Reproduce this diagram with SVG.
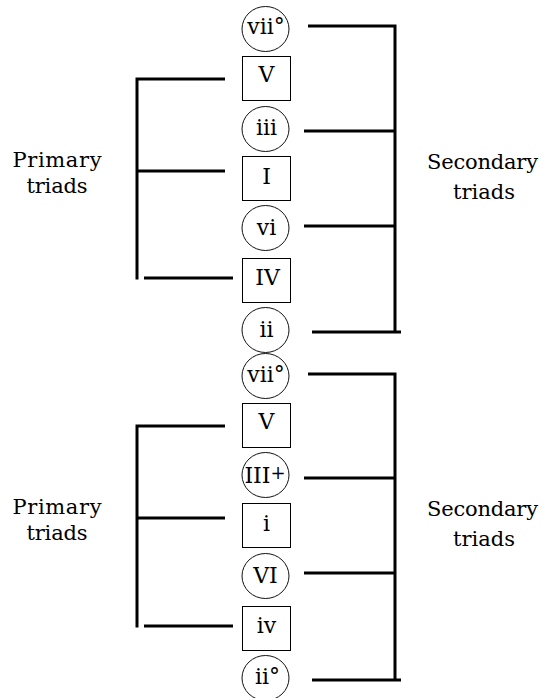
<svg xmlns="http://www.w3.org/2000/svg" width="544" height="698" viewBox="0 0 544 698">
  <style>
    .box { fill: #fff; stroke: #000; stroke-width: 1; }
    .ring { fill: #fff; stroke: #111; stroke-width: 1; }
    .lbl { font-family: "DejaVu Serif", "Liberation Serif", serif; font-size: 22px; fill: #000; text-anchor: middle; }
    .side { font-family: "DejaVu Serif", "Liberation Serif", serif; font-size: 21px; fill: #000; }
    .wire { stroke: #000; stroke-width: 3; fill: none; stroke-linecap: butt; }
  </style>

  <!-- brackets linking the triads -->
  <g id="connectors">
    <!-- major key: primary bracket -->
    <path class="wire" d="M137 77.5 V279.5 M137 79 H225 M137 171 H225 M144 278 H233"/>
    <!-- major key: secondary bracket -->
    <path class="wire" d="M395 24.5 V333.5 M308 26 H396.5 M304 131 H396.5 M304 226 H396.5 M312 332 H401"/>
    <!-- minor key: primary bracket -->
    <path class="wire" d="M137 424.5 V627.5 M137 426 H225 M137 518 H225 M144 626 H233"/>
    <!-- minor key: secondary bracket -->
    <path class="wire" d="M395 372.5 V681.5 M308 374 H396.5 M304 478 H396.5 M304 573 H396.5 M312 680 H401"/>
  </g>

  <!-- major key column -->
  <g id="maj-vii">
    <ellipse class="ring" cx="265.5" cy="29" rx="23.5" ry="22.5"/>
    <text class="lbl" x="266" y="34">vii°</text>
  </g>
  <g id="maj-V">
    <rect class="box" x="242.5" y="56.5" width="48" height="44"/>
    <text class="lbl" x="266.5" y="82">V</text>
  </g>
  <g id="maj-iii">
    <ellipse class="ring" cx="265.5" cy="129" rx="23.5" ry="22.5"/>
    <text class="lbl" x="266.5" y="135">iii</text>
  </g>
  <g id="maj-I">
    <rect class="box" x="242.5" y="156.5" width="48" height="44"/>
    <text class="lbl" x="266.5" y="184">I</text>
  </g>
  <g id="maj-vi">
    <ellipse class="ring" cx="265.5" cy="228" rx="23.5" ry="22.5"/>
    <text class="lbl" x="266.5" y="235">vi</text>
  </g>
  <g id="maj-IV">
    <rect class="box" x="242.5" y="258.5" width="48" height="44"/>
    <text class="lbl" x="267.5" y="285">IV</text>
  </g>
  <g id="maj-ii">
    <ellipse class="ring" cx="265.5" cy="330" rx="23.5" ry="22.5"/>
    <text class="lbl" x="266.5" y="336.5">ii</text>
  </g>

  <!-- minor key column -->
  <g id="min-vii">
    <ellipse class="ring" cx="265.5" cy="376" rx="23.5" ry="22.5"/>
    <text class="lbl" x="266" y="382">vii°</text>
  </g>
  <g id="min-V">
    <rect class="box" x="242.5" y="403.5" width="48" height="44"/>
    <text class="lbl" x="266.5" y="429">V</text>
  </g>
  <g id="min-III">
    <ellipse class="ring" cx="265.5" cy="475" rx="23.5" ry="22.5"/>
    <text class="lbl" x="265" y="483" font-size="21">III<tspan font-size="18" dy="-4">+</tspan></text>
  </g>
  <g id="min-i">
    <rect class="box" x="242.5" y="503.5" width="48" height="44"/>
    <text class="lbl" x="266.5" y="531">i</text>
  </g>
  <g id="min-VI">
    <ellipse class="ring" cx="265.5" cy="576" rx="23.5" ry="22.5"/>
    <text class="lbl" x="265.5" y="583">VI</text>
  </g>
  <g id="min-iv">
    <rect class="box" x="242.5" y="606.5" width="48" height="44"/>
    <text class="lbl" x="266.5" y="633">iv</text>
  </g>
  <g id="min-ii">
    <ellipse class="ring" cx="265.5" cy="678" rx="23.5" ry="22.5"/>
    <text class="lbl" x="267.5" y="684">ii°</text>
  </g>

  <!-- group captions -->
  <g id="maj-primary-label">
    <text class="side" x="12.5" y="166.5" textLength="89" lengthAdjust="spacing">Primary</text>
    <text class="side" x="26.5" y="193" textLength="61" lengthAdjust="spacing">triads</text>
  </g>
  <g id="maj-secondary-label">
    <text class="side" x="427" y="169" textLength="111" lengthAdjust="spacing">Secondary</text>
    <text class="side" x="453" y="199" textLength="62" lengthAdjust="spacing">triads</text>
  </g>
  <g id="min-primary-label">
    <text class="side" x="12.5" y="513.5" textLength="89" lengthAdjust="spacing">Primary</text>
    <text class="side" x="26.5" y="540" textLength="61" lengthAdjust="spacing">triads</text>
  </g>
  <g id="min-secondary-label">
    <text class="side" x="427" y="516" textLength="111" lengthAdjust="spacing">Secondary</text>
    <text class="side" x="453" y="546" textLength="62" lengthAdjust="spacing">triads</text>
  </g>
</svg>
